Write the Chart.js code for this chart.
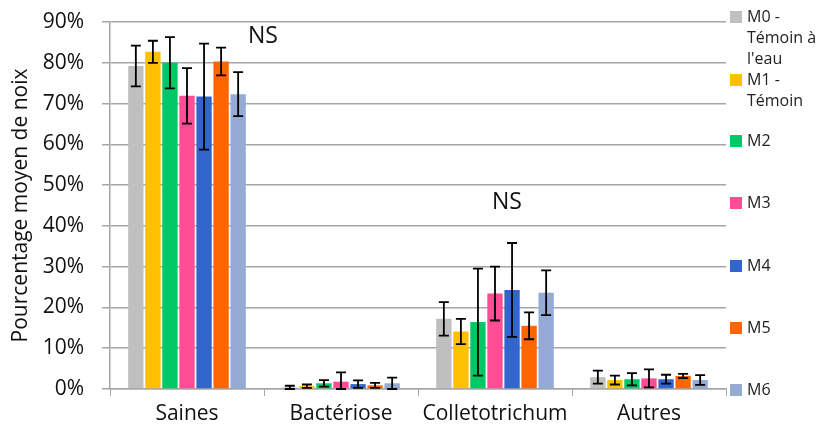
<!DOCTYPE html>
<html lang="fr">
<head>
  <meta charset="UTF-8">
  <title>Pourcentage moyen de noix</title>
  <script src="https://cdn.jsdelivr.net/npm/chart.js"></script>
  <style>
    body { margin: 0; background: #fff; font-family: "Open Sans", sans-serif; }
    #wrap { position: relative; width: 818px; height: 430px; }
    #legend { position: absolute; left: 730px; top: 0; width: 88px; font-size: 16px; color: #222; }
    .item { position: absolute; left: 0; line-height: 21px; }
    .box { position: absolute; left: 0; top: 5px; width: 12px; height: 12px; }
    .txt { margin-left: 17px; white-space: pre; }
  </style>
</head>
<body>
  <div id="wrap">
    <canvas id="c" width="818" height="430"></canvas>
    <div id="legend"></div>
  </div>

  <script>
    const categories = ['Saines', 'Bactériose', 'Colletotrichum', 'Autres'];
    const seriesNames = ['M0 -\nTémoin à\nl\'eau', 'M1 -\nTémoin', 'M2', 'M3', 'M4', 'M5', 'M6'];
    const colors = ['#bfbfbf', '#ffc000', '#00c864', '#ff4c94', '#3366cc', '#ff6600', '#95abd5'];

    // mean values (%) per series, one per category
    const m0 = [79.2, 0.4, 17.2, 2.9];
    const m1 = [82.7, 0.7, 14.1, 2.2];
    const m2 = [80.0, 1.4, 16.4, 2.4];
    const m3 = [71.9, 1.8, 23.4, 2.6];
    const m4 = [71.7, 1.2, 24.3, 2.4];
    const m5 = [80.3, 0.9, 15.5, 3.2];
    const m6 = [72.3, 1.4, 23.6, 2.2];

    // error bar half widths (%)
    const e0 = [5.0, 0.4, 4.1, 1.6];
    const e1 = [2.7, 0.4, 3.1, 1.1];
    const e2 = [6.3, 0.8, 13.1, 1.5];
    const e3 = [6.8, 2.3, 6.6, 2.2];
    const e4 = [13.0, 0.9, 11.5, 1.1];
    const e5 = [3.4, 0.6, 3.3, 0.5];
    const e6 = [5.4, 1.4, 5.5, 1.2];

    const yTicks = [0, 10, 20, 30, 40, 50, 60, 70, 80, 90];
    const nsLabels = ['NS', '', 'NS', ''];

    const values = [m0, m1, m2, m3, m4, m5, m6];
    const errors = [e0, e1, e2, e3, e4, e5, e6];

    const errorBars = {
      id: 'errorBars',
      afterDatasetsDraw(chart) {
        const ctx = chart.ctx;
        const y = chart.scales.y;
        ctx.save();
        ctx.strokeStyle = '#000';
        ctx.lineWidth = 1.8;
        chart.data.datasets.forEach((ds, i) => {
          const meta = chart.getDatasetMeta(i);
          meta.data.forEach((bar, j) => {
            const v = ds.data[j], e = errors[i][j];
            const top = y.getPixelForValue(v + e);
            const bot = y.getPixelForValue(Math.max(v - e, 0));
            ctx.beginPath();
            ctx.moveTo(bar.x, top); ctx.lineTo(bar.x, bot);
            ctx.moveTo(bar.x - 5, top); ctx.lineTo(bar.x + 5, top);
            ctx.moveTo(bar.x - 5, bot); ctx.lineTo(bar.x + 5, bot);
            ctx.stroke();
          });
        });
        // NS labels
        ctx.fillStyle = '#111';
        ctx.font = '23px "Open Sans"';
        ctx.textAlign = 'center';
        ctx.textBaseline = 'middle';
        const x = chart.scales.x;
        nsLabels.forEach((t, j) => {
          if (!t) return;
          let top = 0;
          errors.forEach((er, i) => { top = Math.max(top, values[i][j] + er[j]); });
          if (j === 0) ctx.fillText(t, x.getPixelForValue(j) + 76, y.getPixelForValue(top + 0.2));
          else ctx.fillText(t, x.getPixelForValue(j) + 12, y.getPixelForValue(top + 10));
        });
        ctx.restore();
      }
    };

    new Chart(document.getElementById('c'), {
      type: 'bar',
      data: {
        labels: categories,
        datasets: values.map((d, i) => ({
          label: seriesNames[i],
          data: d,
          backgroundColor: colors[i],
          categoryPercentage: 0.775,
          barPercentage: 0.9
        }))
      },
      plugins: [errorBars],
      options: {
        responsive: false,
        animation: false,
        layout: { padding: { left: 0, right: 92, top: 22, bottom: 0 } },
        plugins: { legend: { display: false }, tooltip: { enabled: false } },
        scales: {
          x: {
            grid: { drawOnChartArea: false, drawTicks: true, tickLength: 7, color: '#a6a6a6', offset: true },
            border: { color: '#a6a6a6', width: 1.5 },
            ticks: { color: '#111', font: { family: 'Open Sans', size: 21 }, padding: 5 },
            afterFit(s) { s.height = 41; s.paddingLeft = 0; s.paddingRight = 0; }
          },
          y: {
            min: 0, max: 90,
            afterBuildTicks(s) { s.ticks = yTicks.map(v => ({ value: v })); },
            grid: { color: '#a6a6a6', lineWidth: 1.5, tickLength: 8 },
            border: { color: '#a6a6a6', width: 1.5 },
            ticks: { color: '#111', font: { family: 'Open Sans', size: 21 }, padding: 18, callback: v => v + '%' },
            title: { display: true, text: 'Pourcentage moyen de noix', color: '#111', font: { family: 'Open Sans', size: 21 }, padding: { top: 8, bottom: 0 } },
            afterFit(s) { s.width = 110; s.paddingTop = 0; s.paddingBottom = 0; }
          }
        }
      }
    });

    const legend = document.getElementById('legend');
    const legendTops = [6, 69, 130, 192, 255, 317, 379];
    seriesNames.forEach((n, i) => {
      const it = document.createElement('div');
      it.className = 'item';
      it.style.top = legendTops[i] + 'px';
      it.innerHTML = '<span class="box" style="background:' + colors[i] + '"></span><div class="txt"></div>';
      it.querySelector('.txt').textContent = n;
      legend.appendChild(it);
    });
  </script>
</body>
</html>
